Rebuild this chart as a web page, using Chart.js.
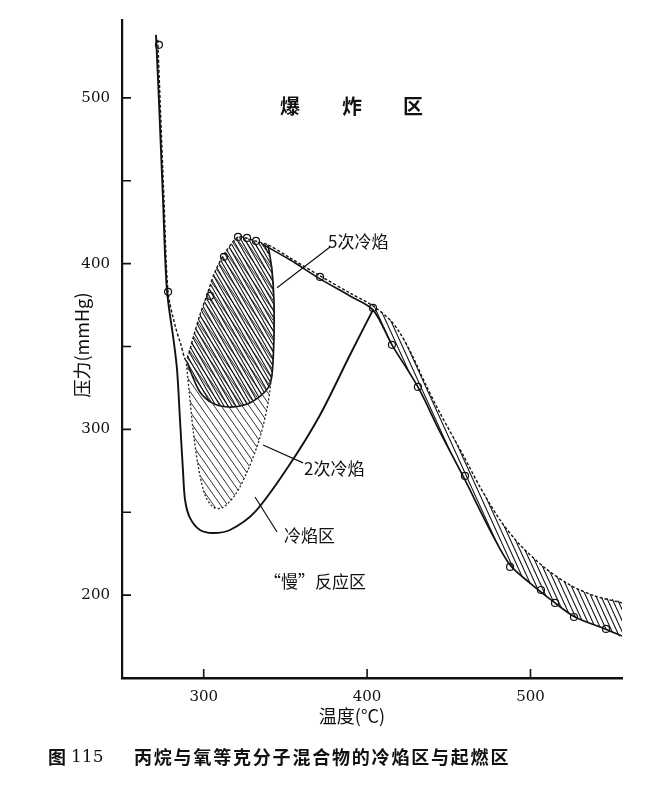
<!DOCTYPE html>
<html>
<head>
<meta charset="utf-8">
<script src="https://cdn.jsdelivr.net/npm/chart.js@4.4.0/dist/chart.umd.min.js"></script>
<style>
  html, body { margin: 0; padding: 0; background: #fff; }
</style>
</head>
<body>
<canvas id="flame-chart" width="666" height="786"></canvas>
<script>
// axis ticks
let tempTicks = [300, 400, 500];
let pressureTicks = [200, 250, 300, 350, 400, 450, 500];

// ignition limit (dashed), from the top left round the peninsula and down the right
let ignitionT = [271.9, 273.3, 275.7, 278.2, 282.4, 286.1, 289.2, 293.5, 297.7, 302.0, 306.9, 313.0, 321.0, 325.9, 331.4, 339.4, 352.8, 371.2, 389.5, 403.6, 414.0, 420.1, 427.5, 435.4, 444.6, 458.7, 469.1, 481.3, 493.6, 508.9, 524.2, 539.5, 556.0];
let ignitionP = [535.0, 498.8, 438.5, 383.0, 363.0, 351.0, 341.9, 355.2, 369.1, 381.1, 395.0, 406.5, 416.1, 415.5, 413.7, 411.3, 403.5, 392.6, 382.3, 374.5, 366.1, 358.2, 344.9, 328.0, 309.9, 284.6, 265.3, 245.4, 230.3, 216.4, 206.1, 199.5, 195.3];

// solid line under the ridge and the lower edge of the right band
let lowerT = [335.7, 352.8, 371.2, 389.5, 403.6, 415.2, 431.1, 444.6, 459.9, 475.2, 487.5, 499.7, 515.0, 527.2, 545.6, 556.0];
let lowerP = [411.9, 402.3, 390.8, 380.5, 372.1, 351.0, 325.6, 298.5, 269.5, 239.3, 218.2, 207.3, 195.3, 186.8, 179.6, 175.3];

// cool flame region boundary (solid)
let coolT = [270.8, 272.6, 275.1, 277.5, 281.8, 283.7, 285.5, 287.3, 288.6, 291.6, 297.7, 305.7, 316.1, 331.4, 351.6, 371.2, 389.5, 403.6];
let coolP = [538.0, 498.8, 438.5, 384.2, 352.2, 335.9, 305.7, 275.5, 257.4, 246.6, 239.3, 237.5, 239.3, 250.2, 277.3, 308.7, 344.9, 372.1];

// 2 cool flames, outline (dotted)
let twoT = [289.2, 291.0, 293.5, 296.5, 300.8, 305.7, 311.2, 319.2, 327.1, 334.5, 339.4, 341.8, 343.0, 342.4, 340.6, 335.7];
let twoP = [341.9, 323.8, 299.7, 278.5, 260.4, 253.2, 252.6, 260.4, 275.5, 295.4, 316.0, 335.9, 360.0, 384.2, 403.5, 412.5];

// 5 cool flames, outline (solid)
let fiveT = [339.4, 341.8, 343.0, 343.0, 341.8, 339.4, 333.2, 325.3, 314.9, 305.1, 297.7, 292.8, 289.8];
let fiveP = [411.3, 396.2, 378.1, 354.2, 332.9, 325.0, 319.0, 314.8, 313.5, 316.0, 322.6, 332.9, 340.8];

// measured points
let markT = [272.6, 278.2, 303.9, 312.4, 321.0, 326.5, 332.0, 371.2, 403.6, 415.2, 431.1, 459.9, 487.5, 506.4, 515.0, 526.6, 546.2];
let markP = [532.0, 383.0, 380.5, 404.1, 416.1, 415.5, 413.7, 392.0, 373.3, 351.0, 325.6, 271.9, 217.0, 203.1, 195.3, 186.8, 179.6];

function pts(xs, ys) {
  return xs.map((x, i) => ({ x: x, y: ys[i] }));
}

// polygons for the hatched areas, built from the lines above
let vIdx = 6; // bottom of the V in the ignition line
let topIdx = 15; // where the 5-flame outline starts on the ignition line
let junction = ignitionT.findIndex((t) => t >= 403);
let lowJunction = lowerT.findIndex((t) => t >= 403);

let bandPoly = pts(ignitionT, ignitionP)
  .slice(junction)
  .concat(pts(lowerT, lowerP).slice(lowJunction).reverse());
let twoPoly = pts(twoT, twoP).concat(
  pts(ignitionT, ignitionP).slice(vIdx + 1, topIdx).reverse()
);
let fivePoly = pts(fiveT, fiveP).concat(
  pts(ignitionT, ignitionP).slice(vIdx, topIdx + 1)
);

function makeHatch(w, h, lineWidth, color) {
  let c = document.createElement("canvas");
  c.width = w;
  c.height = h;
  let g = c.getContext("2d");
  g.strokeStyle = color;
  g.lineWidth = lineWidth;
  g.beginPath();
  for (let k = -1; k <= 1; k++) {
    g.moveTo(k * w - w, -h);
    g.lineTo(k * w + 2 * w, 2 * h);
  }
  g.stroke();
  return g.createPattern(c, "repeat");
}

let hatchBand = makeHatch(5, 11, 1.1, "#111");
let hatchTwo = makeHatch(7, 10, 1.0, "#333");
let hatchFive = makeHatch(4, 7, 1.1, "#111");

let cjk = "'Noto Sans CJK SC', sans-serif";
let serif = "'DejaVu Serif', serif";

let annotate = {
  id: "annotate",
  afterDraw(chart) {
    let { ctx, chartArea, scales } = chart;
    let px = (t) => scales.x.getPixelForValue(t);
    let py = (p) => scales.y.getPixelForValue(p);
    ctx.save();
    ctx.strokeStyle = "#111";
    ctx.lineWidth = 1.6;

    // inside tick marks
    ctx.beginPath();
    pressureTicks.forEach((v) => {
      ctx.moveTo(chartArea.left, py(v));
      ctx.lineTo(chartArea.left + 9, py(v));
    });
    tempTicks.forEach((v) => {
      ctx.moveTo(px(v), chartArea.bottom);
      ctx.lineTo(px(v), chartArea.bottom - 9);
    });
    ctx.stroke();

    // leader lines
    ctx.lineWidth = 1.2;
    ctx.beginPath();
    ctx.moveTo(px(377.3), py(410.1));
    ctx.lineTo(px(344.9), py(385.4));
    ctx.moveTo(px(360.8), py(279.8));
    ctx.lineTo(px(336.3), py(290.6));
    ctx.moveTo(px(344.9), py(238.1));
    ctx.lineTo(px(331.4), py(259.2));
    ctx.stroke();

    ctx.fillStyle = "#111";
    ctx.textBaseline = "middle";
    ctx.textAlign = "center";
    ctx.font = "bold 20px " + cjk;
    let cx = px(390.8);
    let cy = py(494.6);
    ctx.fillText("爆", cx - 62, cy);
    ctx.fillText("炸", cx, cy);
    ctx.fillText("区", cx + 61, cy);

    ctx.textAlign = "left";
    ctx.font = "17px " + cjk;
    ctx.fillText("5次冷焰", px(376.1), py(413.1));
    ctx.fillText("2次冷焰", px(361.4), py(276.1));
    ctx.fillText("冷焰区", px(349.1), py(235.7));
    ctx.textAlign = "center";
    ctx.fillText("“慢”反应区", px(368.1), py(207.9));

    // axis titles
    ctx.font = "18px " + cjk;
    ctx.fillText("温度(°C)", 352, 716);
    ctx.save();
    ctx.translate(82, 345);
    ctx.rotate(-Math.PI / 2);
    ctx.fillText("压力(mmHg)", 0, 0);
    ctx.restore();

    // caption
    ctx.textAlign = "left";
    ctx.font = "bold 18px " + cjk;
    ctx.fillText("图", 48, 757);
    ctx.font = "17px " + serif;
    ctx.fillText("115", 71, 758);
    ctx.font = "bold 18px " + cjk;
    ctx.letterSpacing = "1.8px";
    ctx.fillText("丙烷与氧等克分子混合物的冷焰区与起燃区", 134, 757);
    ctx.restore();
  },
};

let areaStyle = {
  borderWidth: 0,
  pointRadius: 0,
  fill: "shape",
  tension: 0.25,
};

let flameChart = new Chart("flame-chart", {
  type: "line",
  data: {
    datasets: [
      { ...areaStyle, data: fivePoly, backgroundColor: hatchFive },
      { ...areaStyle, data: twoPoly, backgroundColor: hatchTwo },
      { ...areaStyle, data: bandPoly, backgroundColor: hatchBand },
      {
        data: pts(ignitionT, ignitionP),
        borderColor: "#111",
        borderWidth: 1.4,
        borderDash: [3, 2],
        pointRadius: 0,
        fill: false,
        tension: 0.3,
      },
      {
        data: pts(lowerT, lowerP),
        borderColor: "#111",
        borderWidth: 1.7,
        pointRadius: 0,
        fill: false,
        tension: 0.3,
      },
      {
        data: pts(coolT, coolP),
        borderColor: "#111",
        borderWidth: 1.9,
        pointRadius: 0,
        fill: false,
        tension: 0.3,
      },
      {
        data: pts(twoT, twoP),
        borderColor: "#222",
        borderWidth: 1.3,
        borderDash: [2, 2],
        pointRadius: 0,
        fill: false,
        tension: 0.3,
      },
      {
        data: pts(fiveT, fiveP),
        borderColor: "#111",
        borderWidth: 1.6,
        pointRadius: 0,
        fill: false,
        tension: 0.3,
      },
      {
        data: pts(markT, markP),
        showLine: false,
        pointRadius: 3.5,
        pointBackgroundColor: "#fff",
        pointBorderColor: "#111",
        pointBorderWidth: 1.2,
        fill: false,
      },
    ],
  },
  options: {
    responsive: false,
    animation: false,
    layout: {
      padding: { left: 22, right: 44, top: 20, bottom: 8 },
    },
    plugins: {
      legend: { display: false },
      tooltip: { enabled: false },
      title: { display: false },
    },
    scales: {
      x: {
        type: "linear",
        min: 250,
        max: 556,
        afterFit: (scale) => {
          scale.height = 100;
        },
        afterBuildTicks: (scale) => {
          scale.ticks = tempTicks.map((v) => ({ value: v }));
        },
        ticks: {
          padding: 2,
          color: "#111",
          font: { family: "DejaVu Serif", size: 15 },
        },
        grid: { display: false },
        border: { display: true, color: "#111", width: 2.5 },
      },
      y: {
        type: "linear",
        min: 150,
        max: 547,
        afterFit: (scale) => {
          scale.width = 100;
        },
        afterBuildTicks: (scale) => {
          scale.ticks = pressureTicks.map((v) => ({ value: v }));
        },
        ticks: {
          padding: 4,
          color: "#111",
          font: { family: "DejaVu Serif", size: 15 },
          callback: (v) => (v % 100 === 0 ? v : ""),
        },
        grid: { display: false },
        border: { display: true, color: "#111", width: 2.2 },
      },
    },
  },
  plugins: [annotate],
});
</script>
</body>
</html>
